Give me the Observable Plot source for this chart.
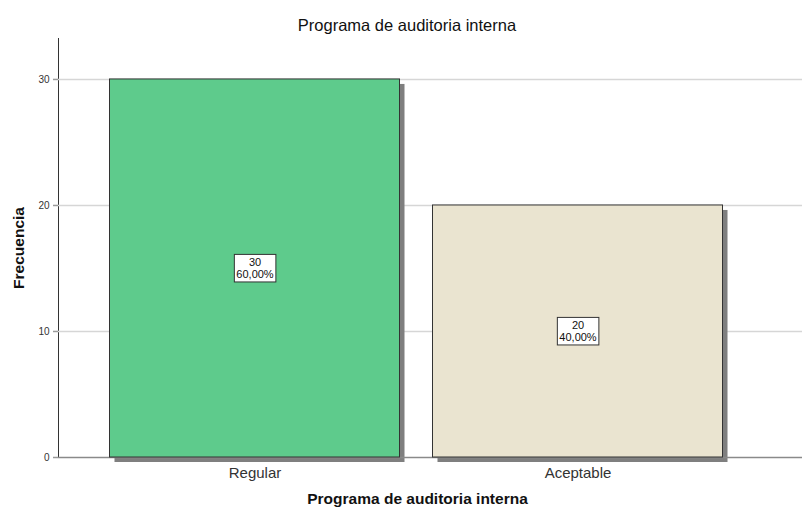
<!DOCTYPE html>
<html>
<head>
<meta charset="utf-8">
<script src="https://cdn.jsdelivr.net/npm/d3@7"></script>
<script src="https://cdn.jsdelivr.net/npm/@observablehq/plot@0.6"></script>
<style>
  html, body { margin: 0; padding: 0; background: #fff; }
  body { width: 802px; height: 516px; overflow: hidden; font-family: Arial, "Liberation Sans", sans-serif; }
  #title { height: 33px; box-sizing: border-box; padding-top: 17px; line-height: 16px; font-size: 16.5px; font-weight: normal; color: #111; text-align: center; padding-left: 12px; white-space: nowrap; }
  #chart svg { display: block; }
</style>
</head>
<body>
<div id="title">Programa de auditoria interna</div>
<div id="chart"></div>
<script>
const categories = ["Regular", "Aceptable"];
const counts = [30, 20];
const percents = [60, 40];
const barColors = ["#5ECB8C", "#EAE4D0"];
const yTicks = [0, 10, 20, 30];
const gridTicks = [10, 20, 30];
const xTitle = "Programa de auditoria interna";
const yTitle = "Frecuencia";

const data = categories.map((c, i) => ({
  cat: c, value: counts[i], pct: percents[i], color: barColors[i]
}));
const fmtPct = p => p.toFixed(2).replace(".", ",") + "%";

const chart = Plot.plot({
  width: 802,
  height: 483,
  marginLeft: 58,
  marginRight: 0,
  marginTop: 5,
  marginBottom: 59,
  style: { fontFamily: "Arial, 'Liberation Sans', sans-serif", background: "#fff", color: "#333", overflow: "visible" },
  x: {
    type: "band", domain: categories,
    paddingInner: 0.099, paddingOuter: 0.2012, align: 0.392,
    tickSize: 0, tickPadding: 10, label: null
  },
  y: {
    domain: [0, 33.25], ticks: yTicks, tickSize: 5, tickPadding: 4,
    label: yTitle, labelAnchor: "center", labelArrow: "none", labelOffset: 46, line: true
  },
  marks: [
    Plot.ruleY(gridTicks, { stroke: "#d6d6d6", strokeWidth: 1.5 }),
    Plot.barY(data, { x: "cat", y: "value", fill: "#7f7f7f", dx: 5, dy: 5, insetLeft: 0.5, insetRight: 0.5 }),
    Plot.ruleY([0], { stroke: "#8a8a8a", strokeWidth: 1.5 }),
    Plot.barY(data, { x: "cat", y: "value", fill: d => d.color, stroke: "#333", strokeWidth: 1, insetLeft: 0.5, insetRight: 0.5 }),
    Plot.text(data, {
      x: "cat", y: d => d.value / 2,
      text: d => `${d.value}\n${fmtPct(d.pct)}`,
      fontSize: 11, lineHeight: 1.05, fill: "#111",
      className: "vlabel"
    }),
    Plot.text([xTitle], { text: d => d, frameAnchor: "bottom", dy: 46, dx: -13, fontSize: 15.5, fontWeight: "bold", fill: "#111" })
  ]
});

document.getElementById("chart").appendChild(chart);

// style axes
const svg = d3.select(chart);
svg.selectAll('[aria-label="y-axis tick"] path, [aria-label="y-axis line"]').attr("stroke", "#9a9a9a").attr("stroke-width", 1.5);
svg.selectAll('[aria-label="y-axis tick label"]').attr("font-size", 10).attr("fill", "#333");
svg.selectAll('[aria-label="x-axis tick label"]').attr("font-size", 15).attr("fill", "#333");
svg.selectAll('[aria-label="y-axis label"]').attr("font-size", 15.5).attr("font-weight", "bold").attr("fill", "#111")
  .each(function () { if (!this.getAttribute("transform")) this.setAttribute("transform", "translate(0,5)"); });

// white boxes behind value labels
svg.selectAll("g.vlabel text").each(function () {
  const bb = this.getBBox();
  const pad = 2;
  const rect = d3.select(this.parentNode).insert("rect", () => this)
    .attr("x", bb.x - pad).attr("y", bb.y - pad)
    .attr("width", bb.width + 2 * pad).attr("height", bb.height + 2 * pad)
    .attr("fill", "#fff").attr("stroke", "#333").attr("stroke-width", 1);
  const t = this.getAttribute("transform");
  if (t) rect.attr("transform", t);
});
</script>
</body>
</html>
